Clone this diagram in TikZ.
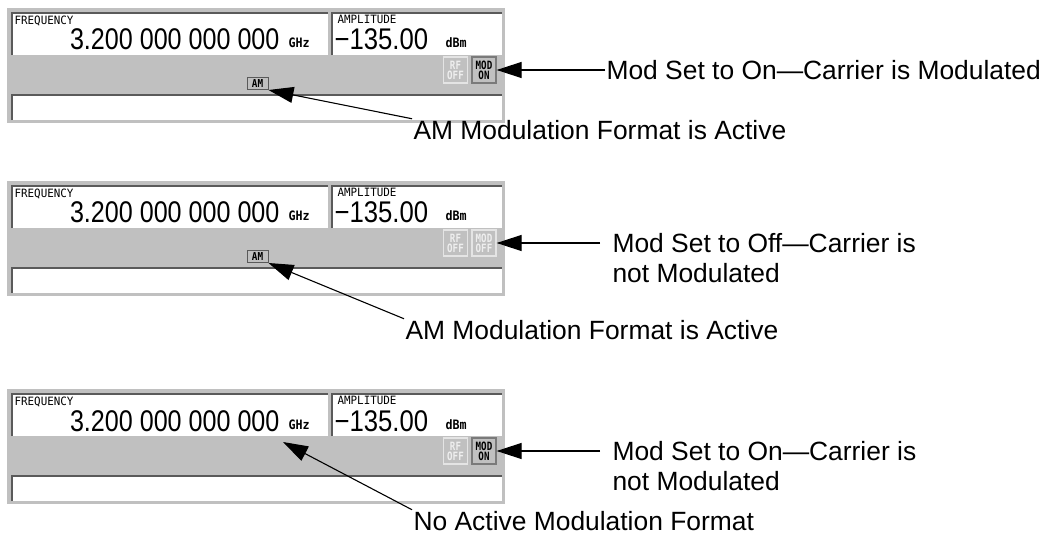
\documentclass[tikz,border=0pt]{standalone}
\usepackage{graphicx}
\usepackage{fontspec}
\setmainfont{Liberation Sans}
\newfontfamily\lcdfont{DejaVu Sans Mono}
\usetikzlibrary{arrows.meta,calc}
\definecolor{panelgray}{HTML}{C0C0C0}
\definecolor{edgedark}{HTML}{5A5A5A}
\definecolor{edgemid}{HTML}{7A7A7A}
\definecolor{edgelight}{HTML}{E4E4E4}
\definecolor{offtext}{HTML}{EEEEEE}

\begin{document}
\begin{tikzpicture}[x=1bp, y=-1bp, >={Triangle[length=25bp,width=16bp]}, line width=1.1bp]
	\tikzset{field/.style={fill=white, draw=none, inner sep=0pt, anchor=north west}}
	\tikzset{tag/.style={font=\lcdfont\fontsize{11.5}{12}\selectfont, inner sep=0pt, anchor=north west}}
	\tikzset{unit/.style={font=\lcdfont\bfseries\fontsize{13}{13}\selectfont, inner sep=0pt, anchor=base west}}
	\tikzset{readout/.style={font=\fontsize{30}{30}\selectfont, inner sep=0pt}}
	\tikzset{btn/.style={draw=#1, fill=panelgray, line width=1.3bp, minimum width=24bp, minimum height=26bp, inner sep=0pt, align=center, font=\lcdfont\bfseries\fontsize{11.5}{10}\selectfont}}
	\tikzset{ambox/.style={draw=edgedark, fill=panelgray, line width=1bp, minimum width=21bp, minimum height=12bp, inner sep=0pt, font=\lcdfont\bfseries\fontsize{11}{11}\selectfont}}
	\tikzset{note/.style={font=\fontsize{26.5}{30}\selectfont, inner sep=1bp, anchor=west}}
	\useasboundingbox (0,0) rectangle (1053,538);
	% the three status panels
	\foreach \i/\t/\modtxt/\modcol/\modedge in {1/8/ON/black/edgemid, 2/181/OFF/offtext/edgelight, 3/389/ON/black/edgemid} {
		\fill[panelgray] (7,\t) rectangle (505,\t+115);
		\node[field, minimum width=315bp, minimum height=41bp] (freq\i) at (12,\t+5) {};
		\node[field, minimum width=169bp, minimum height=41bp] (amp\i) at (332,\t+5) {};
		\node[field, minimum width=489bp, minimum height=24bp] (line\i) at (12,\t+87) {};
		\draw[edgedark, line width=1.5bp] (freq\i.south west) |- (freq\i.north east);
		\draw[edgedark, line width=1.5bp] (amp\i.south west) |- (amp\i.north east);
		\draw[edgedark, line width=1.5bp] (line\i.south west) |- (line\i.north east);
		\node[tag] (flab\i) at (14,\t+7) {\scalebox{0.95}[1]{FREQUENCY}};
		\node[readout, anchor=base east] (fval\i) at (280,\t+42) {\scalebox{0.84}[1]{3.200 000 000 000}};
		\node[unit] (funit\i) at (288,\t+40) {\scalebox{0.9}[1]{GHz}};
		\node[tag] (alab\i) at (337,\t+7) {\scalebox{0.95}[1]{AMPLITUDE}};
		\node[readout, anchor=base west] (aval\i) at (334,\t+42) {\scalebox{0.86}[1]{−135.00}};
		\node[unit] (aunit\i) at (445,\t+40) {\scalebox{0.9}[1]{dBm}};
		\node[btn=edgelight, text=offtext] (rf\i) at (455.5,\t+62) {\scalebox{0.8}[1]{RF}\\\scalebox{0.8}[1]{OFF}};
		\node[btn=\modedge, text=\modcol] (mod\i) at (484,\t+62) {\scalebox{0.8}[1]{MOD}\\\scalebox{0.8}[1]{\modtxt}};
	}
	\node[ambox] (am1) at (257.5,8+75.5) {\scalebox{0.85}[1]{AM}};
	\node[ambox] (am2) at (257.5,181+75.5) {\scalebox{0.85}[1]{AM}};
	\coordinate (noam3) at (283,389+53);
	% callouts
	\node[note] (on1) at (605,70) {Mod Set to On—Carrier is Modulated};
	\draw[->] (on1.west) -- (mod1.east);
	\node[note] (fmt1) at (412,130) {AM Modulation Format is Active};
	\draw[->] (fmt1.north west) -- (am1.south east);
	\node[note, inner xsep=12bp] (off2) at (600,243) {Mod Set to Off—Carrier is};
	\node[note, inner xsep=12bp] (off2b) at (600,273) {not Modulated};
	\draw[->] (off2.west) -- (mod2.east);
	\node[note] (fmt2) at (404,330) {AM Modulation Format is Active};
	\draw[->] (fmt2.north west) -- (am2.south east);
	\node[note, inner xsep=12bp] (on3) at (600,451) {Mod Set to On—Carrier is};
	\node[note, inner xsep=12bp] (on3b) at (600,481) {not Modulated};
	\draw[->] (on3.west) -- (mod3.east);
	\node[note] (none3) at (412,521) {No Active Modulation Format};
	\draw[->] (none3.north west) -- (noam3);
\end{tikzpicture}
\end{document}
